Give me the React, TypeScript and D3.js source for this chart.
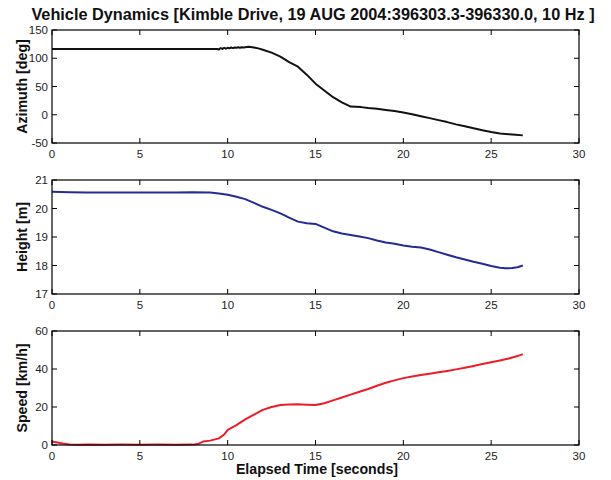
import React from "react";
import * as d3 from "d3";

const TITLE = "Vehicle Dynamics [Kimble Drive, 19 AUG 2004:396303.3-396330.0, 10 Hz ]";
const X_LABEL = "Elapsed Time [seconds]";
const X_TICKS = [0, 5, 10, 15, 20, 25, 30];

const azTime = [0, 9.4, 9.5, 9.6, 9.7, 9.8, 9.9, 10.0, 10.1, 10.2, 10.3, 10.4, 10.5, 10.6, 10.7, 10.8, 10.9, 11.0, 11.1, 11.2, 11.3, 11.5, 11.8, 12.0, 12.5, 13.0, 13.5, 14.0, 14.5, 15.0, 15.5, 16.0, 16.5, 17.0, 17.3, 17.6, 18.0, 18.5, 19.0, 19.5, 20.0, 20.5, 21.0, 21.5, 22.0, 22.5, 23.0, 23.5, 24.0, 24.5, 25.0, 25.5, 26.0, 26.4, 26.8];
const azValues = [116.5, 116.5, 115.5, 118, 116.5, 118.5, 117, 118.5, 117.5, 119, 118, 119, 118.5, 119.5, 118.5, 119.5, 119, 119.5, 120, 120.5, 120, 119, 117, 115, 110, 103, 93, 85, 71, 55, 43, 31, 22, 14.5, 14, 13.5, 12, 10.5, 8.5, 6.5, 4, 1, -2.5, -6, -9.5, -13, -17, -20.5, -24, -27.5, -30.5, -33, -34.5, -35.5, -36.5];
const AZ_TICKS = [-50, 0, 50, 100, 150];

const hTime = [0, 1, 2, 3, 4, 5, 6, 7, 8, 9, 9.5, 10, 10.5, 11, 11.5, 12, 12.5, 13, 13.5, 14, 14.5, 15, 15.5, 16, 16.5, 17, 17.5, 18, 18.5, 19, 19.5, 20, 20.5, 21, 21.5, 22, 22.5, 23, 23.5, 24, 24.5, 25, 25.5, 25.8, 26.2, 26.5, 26.8];
const hValues = [20.59, 20.57, 20.56, 20.56, 20.56, 20.56, 20.56, 20.56, 20.57, 20.56, 20.53, 20.48, 20.41, 20.33, 20.2, 20.06, 19.95, 19.83, 19.68, 19.54, 19.48, 19.46, 19.33, 19.2, 19.12, 19.07, 19.02, 18.96, 18.88, 18.81, 18.76, 18.7, 18.66, 18.63, 18.56, 18.47, 18.38, 18.29, 18.21, 18.13, 18.06, 17.98, 17.92, 17.9, 17.91, 17.94, 18.0];
const H_TICKS = [17, 18, 19, 20, 21];

const sTime = [0, 0.3, 0.6, 1, 1.5, 2, 3, 4, 5, 6, 7, 8, 8.3, 8.6, 9, 9.5, 9.8, 10, 10.5, 11, 11.5, 12, 12.5, 13, 13.5, 14, 14.5, 15, 15.5, 16, 16.5, 17, 17.5, 18, 18.5, 19, 19.5, 20, 20.5, 21, 21.5, 22, 22.5, 23, 23.5, 24, 24.5, 25, 25.5, 26, 26.5, 26.8];
const sValues = [1.8, 1.3, 0.8, 0.3, 0.1, 0.2, 0.1, 0.2, 0.1, 0.2, 0.1, 0.2, 0.5, 1.8, 2.3, 3.5, 5.5, 8, 10.5, 13.5, 16, 18.5, 20, 21, 21.3, 21.5, 21.2, 21, 22, 23.5, 25, 26.5, 28, 29.5, 31.2, 32.8, 34, 35.2, 36, 36.8, 37.5, 38.3, 39, 39.8, 40.7, 41.6, 42.6, 43.6, 44.5, 45.5, 46.8, 47.8];
const S_TICKS = [0, 20, 40, 60];

const FONT = "'Liberation Sans', Arial, Helvetica, sans-serif";
const LEFT = 52;
const RIGHT = 579;

type Panel = {
  label: string;
  top: number;
  bottom: number;
  ticks: number[];
  t: number[];
  v: number[];
  color: string;
};

const panels: Panel[] = [
  { label: "Azimuth [deg]", top: 30, bottom: 143, ticks: AZ_TICKS, t: azTime, v: azValues, color: "#111111" },
  { label: "Height [m]", top: 180, bottom: 294, ticks: H_TICKS, t: hTime, v: hValues, color: "#262a96" },
  { label: "Speed [km/h]", top: 331, bottom: 445, ticks: S_TICKS, t: sTime, v: sValues, color: "#ee1c25" },
];

const x = d3.scaleLinear().domain([0, 30]).range([LEFT, RIGHT]);

function PanelView({ p }: { p: Panel }) {
  const y = d3
    .scaleLinear()
    .domain([p.ticks[0], p.ticks[p.ticks.length - 1]])
    .range([p.bottom, p.top]);
  const pts: [number, number][] = p.t.map((t, i) => [t, p.v[i]]);
  const line = d3
    .line<[number, number]>()
    .x((d) => x(d[0]))
    .y((d) => y(d[1]));
  const TL = 5;
  const midY = (p.top + p.bottom) / 2;
  return (
    <g>
      <path d={line(pts) || ""} fill="none" stroke={p.color} strokeWidth={2} strokeLinejoin="round" />
      <rect x={LEFT} y={p.top} width={RIGHT - LEFT} height={p.bottom - p.top} fill="none" stroke="#000" strokeWidth={1.2} />
      {X_TICKS.map((t) => (
        <g key={"x" + t}>
          <line x1={x(t)} x2={x(t)} y1={p.bottom} y2={p.bottom - TL} stroke="#000" />
          <line x1={x(t)} x2={x(t)} y1={p.top} y2={p.top + TL} stroke="#000" />
          <text x={x(t)} y={p.bottom + 15} textAnchor="middle" fontSize={11.5} fill="#222" fontFamily={FONT}>
            {t}
          </text>
        </g>
      ))}
      {p.ticks.map((t) => (
        <g key={"y" + t}>
          <line x1={LEFT} x2={LEFT + TL} y1={y(t)} y2={y(t)} stroke="#000" />
          <line x1={RIGHT} x2={RIGHT - TL} y1={y(t)} y2={y(t)} stroke="#000" />
          <text x={LEFT - 4} y={y(t) + 4} textAnchor="end" fontSize={11.5} fill="#222" fontFamily={FONT}>
            {t}
          </text>
        </g>
      ))}
      <text
        transform={`translate(${27},${midY}) rotate(-90)`}
        textAnchor="middle"
        fontSize={14.2}
        fontWeight="bold"
        fill="#111"
        fontFamily={FONT}
      >
        {p.label}
      </text>
    </g>
  );
}

export default function App() {
  return (
    <svg
      width={611}
      height={480}
      style={{ position: "absolute", left: 0, top: 0, background: "#fff" }}
    >
      <rect width={611} height={480} fill="#fff" />
      <text x={313} y={20} textAnchor="middle" fontSize={16.3} fontWeight="bold" fill="#111" fontFamily={FONT}>
        {TITLE}
      </text>
      {panels.map((p, i) => (
        <PanelView key={i} p={p} />
      ))}
      <text x={317} y={474} textAnchor="middle" fontSize={14.2} fontWeight="bold" fill="#111" fontFamily={FONT}>
        {X_LABEL}
      </text>
    </svg>
  );
}
